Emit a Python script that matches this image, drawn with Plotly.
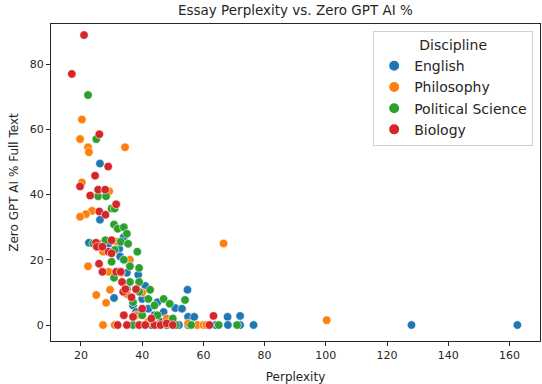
import plotly.graph_objects as go

# Perplexity / ZeroGPT values per discipline
english_x = [26.2, 26.2, 22.6, 32.5, 32.8, 38.7, 30.8, 35, 37, 40, 42, 44, 46, 50.8, 54.8, 53, 55, 57, 48, 52,
             55, 67.9, 72, 72, 76.4, 128, 162.6, 38, 45, 41, 35, 29, 34, 39, 43, 64, 68, 47, 58]
english_y = [49.5, 32.3, 25.2, 23.4, 21, 15.4, 8.3, 11, 6, 8, 5, 3, 1, 5.2, 10.8, 5, 2.5, 2.5, 0, 0,
             0, 2.5, 2.8, 0, 0, 0, 0, 4, 7, 12, 16, 25, 27, 0, 0, 0, 0, 4, 0]

philosophy_x = [20.3, 19.7, 22.3, 22.6, 34.4, 20.3, 29.2, 23.6, 21.6, 19.7, 31.8, 27.2, 22.3, 29, 29.5, 25,
                28.2, 35, 27.2, 66.6, 100.3, 33, 38, 45, 58, 60, 61, 55, 42, 48, 40, 31, 26, 36]
philosophy_y = [63, 57, 54.5, 53, 54.5, 43.7, 41, 35, 34, 33.2, 25.5, 22.5, 18, 16.3, 10.8, 9.2,
                6.8, 9.5, 0, 25, 1.5, 16, 3, 0, 0, 0, 0, 0.5, 1, 2, 10, 0, 25, 20]

polisci_x = [22.3, 25, 25.6, 28.2, 30, 31, 30.8, 32, 34, 35, 33, 35.4, 38.4, 30, 39, 30.8, 36, 39, 39, 42.6,
             54, 44, 47, 49, 37, 48, 51, 56, 65, 71, 40, 45, 36, 31, 34, 28, 42, 37, 24, 50]
polisci_y = [70.5, 57, 39.5, 39.5, 35.7, 35.7, 30.8, 29.5, 30, 28, 25.5, 24.9, 22.5, 19.4, 17.5, 14.5, 13.2, 13.2, 10.2, 10.8,
             7.7, 6, 8, 6.5, 0, 0, 0, 0, 0, 0, 3, 3, 18, 23, 20, 26, 8, 7, 25, 2]

biology_x = [21, 17, 26, 28.9, 24.6, 19.7, 25.6, 27.9, 23, 31.5, 26, 28, 24.9, 25.2, 29, 30, 25.9, 27, 31.5, 33,
             33.4, 33.8, 34.5, 36.5, 34, 37, 32, 35, 39, 41, 44, 46, 48, 50, 63.3, 62, 40, 43, 38, 30, 27]
biology_y = [88.9, 77, 58.5, 48.6, 45.8, 42.5, 41.5, 41.5, 39.7, 37, 34.8, 33.8, 25.2, 24, 22.5, 22, 18.8, 16.3, 16.3, 16.3,
             13.2, 10.2, 11, 8.5, 3, 2.5, 0, 0, 0, 0, 0, 0, 0.5, 0, 2.8, 0, 5, 2, 11, 26, 24]

series = [
    ("English", english_x, english_y, "#1f77b4"),
    ("Philosophy", philosophy_x, philosophy_y, "#ff7f0e"),
    ("Political Science", polisci_x, polisci_y, "#2ca02c"),
    ("Biology", biology_x, biology_y, "#d62728"),
]

fig = go.Figure()
for name, xs, ys, color in series:
    fig.add_trace(go.Scatter(
        x=xs, y=ys, mode="markers", name=name,
        marker=dict(color=color, size=8.5, line=dict(color="white", width=0.6))))

axis_style = dict(showgrid=False, zeroline=False, showline=True, linecolor="#262626",
                  linewidth=1, mirror=True, ticks="outside", ticklen=4, tickcolor="#262626",
                  tickfont=dict(size=11, color="#262626"), automargin=False)

fig.update_layout(
    width=542, height=384,
    paper_bgcolor="white", plot_bgcolor="white",
    font=dict(family="DejaVu Sans", color="#262626"),
    margin=dict(l=51, r=2, t=24, b=43),
    title=dict(text="Essay Perplexity vs. Zero GPT AI %", x=0.545, xanchor="center",
               y=0.973, yanchor="middle", font=dict(size=13.5)),
    xaxis=dict(range=[10.2, 170], tickvals=[20, 40, 60, 80, 100, 120, 140, 160],
               title=dict(text="Perplexity", font=dict(size=12)), **axis_style),
    yaxis=dict(range=[-4.9, 92.3], tickvals=[0, 20, 40, 60, 80],
               title=dict(text="Zero GPT AI % Full Text", font=dict(size=12), standoff=8), **axis_style),
    legend=dict(x=0.986, y=0.978, xanchor="right", yanchor="top",
                bordercolor="#d0d0d0", borderwidth=1, bgcolor="rgba(255,255,255,0.8)",
                title=dict(text="Discipline", side="top center", font=dict(size=14)),
                font=dict(size=14), itemsizing="constant"),
)

# drop the browser's default 8px body margin so the figure sits at the page corner
fig.write_html("out.html", config={"displayModeBar": False},
               post_script="document.body.style.margin='0';")
